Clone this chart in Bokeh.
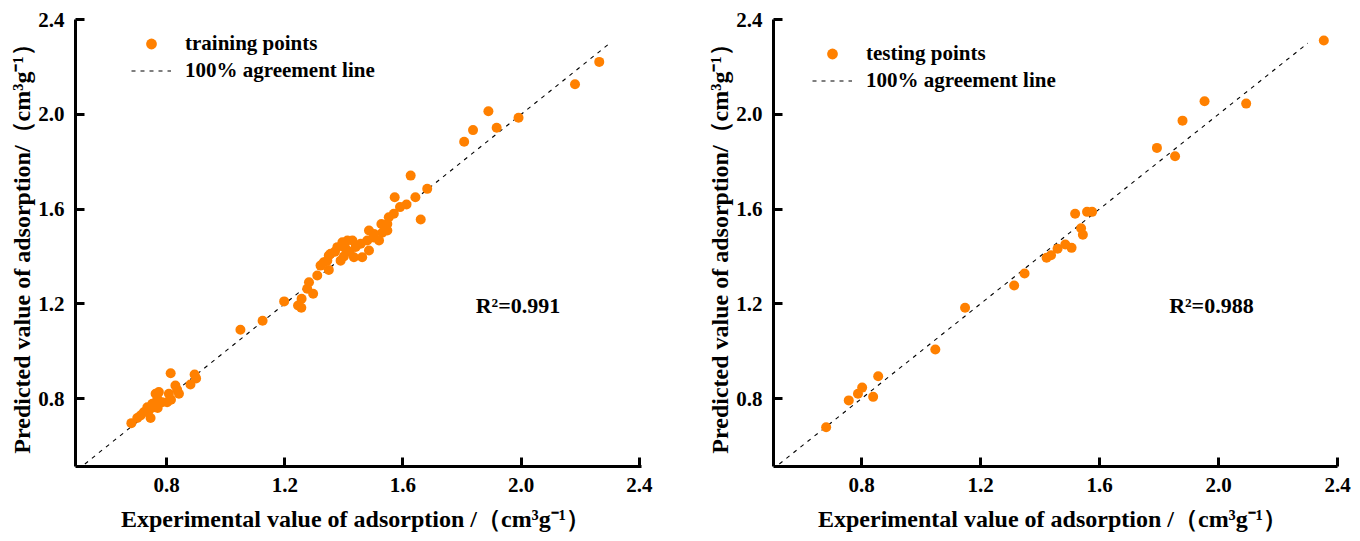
from bokeh.plotting import figure
from bokeh.layouts import row
from bokeh.models import FixedTicker, NumeralTickFormatter, Legend, LegendItem, Label, Range1d
from bokeh.embed import file_html
from bokeh.resources import INLINE

# ---- data ----
train_x = [0.681, 0.701, 0.712, 0.723, 0.735, 0.740, 0.746, 0.752, 0.757, 0.763, 0.769, 0.774,
           0.785, 0.802, 0.808, 0.814, 0.830, 0.836, 0.842, 0.881, 0.895, 0.900, 0.770, 0.815,
           1.050, 1.125, 1.198, 1.245, 1.256, 1.257, 1.276, 1.282, 1.296, 1.310, 1.321, 1.332,
           1.344, 1.349, 1.349, 1.355, 1.378, 1.389, 1.395, 1.406, 1.412, 1.429, 1.434, 1.420,
           1.457, 1.462, 1.479, 1.485, 1.485, 1.502, 1.519, 1.527, 1.547, 1.547, 1.552, 1.569,
           1.590, 1.612, 1.572, 1.626, 1.642, 1.660, 1.682, 1.440, 1.400, 1.370, 1.500, 1.530,
           1.807, 1.837, 1.889, 1.917, 1.991, 2.182, 2.264]
train_y = [0.696, 0.718, 0.728, 0.742, 0.763, 0.749, 0.718, 0.778, 0.763, 0.820, 0.799, 0.827,
           0.784, 0.784, 0.820, 0.907, 0.855, 0.837, 0.820, 0.859, 0.901, 0.885, 0.760, 0.795,
           1.090, 1.128, 1.210, 1.193, 1.183, 1.221, 1.263, 1.291, 1.242, 1.319, 1.361, 1.375,
           1.382, 1.404, 1.343, 1.411, 1.439, 1.382, 1.460, 1.432, 1.467, 1.467, 1.396, 1.420,
           1.453, 1.396, 1.467, 1.509, 1.425, 1.495, 1.467, 1.537, 1.537, 1.509, 1.565, 1.580,
           1.608, 1.619, 1.650, 1.741, 1.650, 1.556, 1.685, 1.440, 1.400, 1.420, 1.480, 1.500,
           1.884, 1.933, 2.013, 1.943, 1.985, 2.127, 2.221]

test_x = [0.681, 0.757, 0.788, 0.802, 0.839, 0.856, 1.048, 1.148, 1.313, 1.348, 1.422, 1.437,
          1.459, 1.485, 1.506, 1.518, 1.538, 1.544, 1.558, 1.575,
          1.793, 1.854, 1.879, 1.953, 2.093, 2.354]
test_y = [0.679, 0.792, 0.820, 0.846, 0.807, 0.894, 1.007, 1.183, 1.277, 1.328, 1.394, 1.405,
          1.432, 1.450, 1.436, 1.580, 1.519, 1.491, 1.588, 1.588,
          1.858, 1.823, 1.973, 2.055, 2.045, 2.311]

line_vals = [0.5, 2.3]
tick_vals = [0.8, 1.2, 1.6, 2.0, 2.4]
r2_train = "R\u00b2=0.991"
r2_test = "R\u00b2=0.988"

FONT = "Liberation Serif"
ORANGE = "#FF8000"
XLABEL = "Experimental value of adsorption  /\uff08cm\u00b3g\u207b\u00b9\uff09"
YLABEL = "Predicted value of adsorption/\uff08cm\u00b3g\u207b\u00b9\uff09"


def make(px, py, name, r2, xr, border_left, border_right, frame_w, leg_loc, r2_x):
    p = figure(output_backend="svg", toolbar_location=None,
               frame_width=frame_w, frame_height=447,
               min_border_left=border_left, min_border_right=border_right,
               min_border_top=19, min_border_bottom=75,
               x_range=Range1d(*xr), y_range=Range1d(0.513, 2.4))
    p.outline_line_color = None
    p.grid.visible = False
    p.background_fill_color = "white"
    p.border_fill_color = "white"

    line_r = p.line(line_vals, line_vals, line_color="black", line_width=1.1, line_dash="4 5")
    pts_r = p.scatter(px, py, size=10, fill_color=ORANGE, line_color=None)

    for ax in (p.xaxis[0], p.yaxis[0]):
        ax.ticker = FixedTicker(ticks=tick_vals)
        ax.formatter = NumeralTickFormatter(format="0.0")
        ax.axis_line_width = 3
        ax.major_tick_line_width = 3
        ax.major_tick_in = 9
        ax.major_tick_out = 0
        ax.minor_tick_line_color = None
        ax.major_label_text_font = FONT
        ax.major_label_text_font_style = "bold"
        ax.major_label_text_font_size = "21px"
        ax.major_label_text_color = "black"
        ax.axis_label_text_font = FONT
        ax.axis_label_text_font_style = "bold"
        ax.axis_label_text_font_size = "24px"
        ax.axis_label_text_color = "black"
        ax.major_label_standoff = 11
    p.xaxis[0].axis_label = XLABEL
    p.yaxis[0].axis_label = YLABEL
    p.xaxis[0].axis_label_standoff = 11
    p.yaxis[0].axis_label_standoff = 0

    legend = Legend(items=[LegendItem(label=name, renderers=[pts_r]),
                           LegendItem(label="100% agreement line", renderers=[line_r])],
                    location=leg_loc, border_line_color=None, background_fill_alpha=0,
                    padding=0, margin=0, spacing=0, glyph_width=40, glyph_height=27,
                    label_height=27, label_standoff=14,
                    label_text_font=FONT, label_text_font_style="bold",
                    label_text_font_size="21px", label_text_color="black")
    p.add_layout(legend, "center")

    p.add_layout(Label(x=r2_x, y=1.193, text=r2, text_font=FONT, text_font_style="bold",
                       text_font_size="22px", text_color="black", text_baseline="middle",
                       text_align="left"))
    return p


p1 = make(train_x, train_y, "training points", r2_train, (0.492, 2.407), 75, 39, 566, (56, 382), 1.846)
p2 = make(test_x, test_y, "testing points", r2_test, (0.504, 2.40), 93, 23, 564, (39, 372), 1.834)

layout = row(p1, p2, spacing=0)
open("out.html", "w").write(file_html(layout, INLINE))
